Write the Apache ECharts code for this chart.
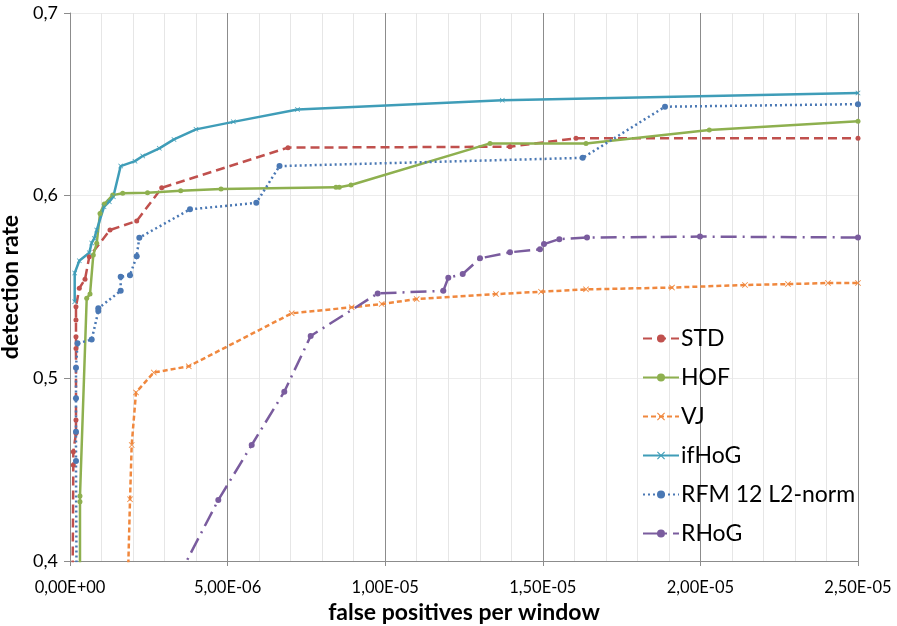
<!DOCTYPE html>
<html>
<head>
<meta charset="utf-8">
<script src="https://cdn.jsdelivr.net/npm/echarts@6/dist/echarts.min.js"></script>
<style>
    html, body {margin: 0; padding: 0; background: #fff;}
    #chart {width: 897px; height: 626px;}
</style>
</head>
<body>
<div id="chart"></div>
<script>
// values (x in false positives per window)
var names = ['STD', 'HOF', 'VJ', 'ifHoG', 'RFM 12 L2-norm', 'RHoG'];

var stdX = [0.08e-6, 0.105e-6, 0.105e-6, 0.19e-6, 0.19e-6, 0.19e-6, 0.19e-6, 0.19e-6, 0.19e-6, 0.295e-6, 0.476e-6, 0.612e-6, 1.269e-6, 2.116e-6, 2.909e-6, 6.916e-6, 13.959e-6, 16.053e-6, 25e-6];
var stdY = [0.38, 0.4525, 0.4598, 0.4699, 0.4772, 0.5164, 0.5228, 0.5319, 0.5392, 0.5493, 0.5542, 0.5666, 0.5812, 0.5861, 0.6043, 0.6263, 0.6268, 0.6314, 0.6314];

var hofX = [0.317e-6, 0.317e-6, 0.317e-6, 0.53e-6, 0.635e-6, 0.739e-6, 0.847e-6, 0.952e-6, 1.088e-6, 1.355e-6, 1.672e-6, 2.459e-6, 3.512e-6, 4.791e-6, 8.439e-6, 8.544e-6, 8.915e-6, 13.325e-6, 16.371e-6, 20.282e-6, 25e-6];
var hofY = [0.35, 0.4325, 0.4356, 0.5438, 0.5461, 0.5675, 0.5739, 0.5903, 0.5954, 0.6003, 0.6013, 0.6016, 0.6027, 0.6036, 0.6046, 0.6046, 0.6058, 0.6286, 0.6286, 0.6359, 0.6408];

var vjX = [1.83e-6, 1.904e-6, 1.957e-6, 2.094e-6, 2.659e-6, 3.769e-6, 7.034e-6, 8.937e-6, 9.889e-6, 10.999e-6, 13.515e-6, 14.943e-6, 16.371e-6, 19.099e-6, 21.415e-6, 22.779e-6, 24.048e-6, 25e-6];
var vjY = [0.385, 0.4338, 0.4635, 0.4923, 0.5032, 0.5066, 0.5356, 0.5389, 0.5407, 0.5434, 0.5461, 0.5474, 0.5487, 0.5497, 0.5511, 0.5516, 0.5522, 0.5522];

var ifhogX = [0.149e-6, 0.149e-6, 0.295e-6, 0.612e-6, 0.688e-6, 0.771e-6, 0.847e-6, 1.079e-6, 1.247e-6, 1.374e-6, 1.608e-6, 2.062e-6, 2.306e-6, 2.833e-6, 3.299e-6, 3.997e-6, 5.181e-6, 7.218e-6, 13.715e-6, 25e-6];
var ifhogY = [0.5419, 0.5576, 0.5644, 0.5688, 0.5741, 0.5766, 0.5812, 0.5939, 0.5967, 0.5994, 0.6162, 0.6189, 0.6217, 0.6259, 0.6308, 0.6363, 0.6404, 0.6472, 0.6523, 0.6562];

var rfmX = [0.21e-6, 0.19e-6, 0.19e-6, 0.19e-6, 0.19e-6, 0.238e-6, 0.688e-6, 0.898e-6, 0.898e-6, 1.608e-6, 1.608e-6, 1.904e-6, 2.116e-6, 2.199e-6, 3.807e-6, 5.911e-6, 6.647e-6, 16.266e-6, 18.877e-6, 25e-6];
var rfmY = [0.38, 0.4547, 0.4708, 0.4891, 0.5058, 0.5192, 0.5212, 0.5368, 0.5383, 0.5479, 0.5556, 0.5565, 0.5669, 0.577, 0.5925, 0.5961, 0.6162, 0.6207, 0.6487, 0.6501];

var rhogX = [3.4e-6, 4.705e-6, 5.765e-6, 6.799e-6, 7.637e-6, 9.762e-6, 11.844e-6, 12.002e-6, 12.459e-6, 13.008e-6, 13.959e-6, 14.911e-6, 15.038e-6, 15.523e-6, 16.402e-6, 19.987e-6, 25e-6];
var rhogY = [0.39, 0.4334, 0.4635, 0.4927, 0.5232, 0.5465, 0.5479, 0.5551, 0.5571, 0.5657, 0.569, 0.5706, 0.5735, 0.5762, 0.5771, 0.5776, 0.5771];

var xTicks = [0, 5e-6, 10e-6, 15e-6, 20e-6, 25e-6];
var yTicks = [0.4, 0.5, 0.6, 0.7];

function pairs(xs, ys) {
    var out = [];
    for (var i = 0; i < xs.length; i++) out.push([xs[i], ys[i]]);
    return out;
}

function sci(v) {
    if (Math.abs(v) < 1e-12) return '0,00E+00';
    var e = Math.floor(Math.log10(v) + 1e-9);
    var m = v / Math.pow(10, e);
    var ex = Math.abs(e);
    return m.toFixed(2).replace('.', ',') + 'E' + (e < 0 ? '-' : '+') + (ex < 10 ? '0' : '') + ex;
}

var cross = 'path://M0,1L1,0L5,4L9,0L10,1L6,5L10,9L9,10L5,6L1,10L0,9L4,5Z';
var font = 'Lato';

function line(name, data, color, type, symbol, size) {
    return {
        name: name,
        type: 'line',
        data: data,
        symbol: symbol,
        symbolSize: size,
        showSymbol: true,
        clip: true,
        itemStyle: {color: color},
        lineStyle: {color: color, width: 2.5, type: type},
        emphasis: {disabled: true},
        z: 3
    };
}

var myChart = echarts.init(document.getElementById('chart'));
var option = {
    animation: false,
    backgroundColor: '#fff',
    grid: {left: 70, right: 39, top: 13, bottom: 65, outerBoundsMode: 'none', containLabel: false},
    legend: {
        orient: 'vertical',
        left: 637,
        top: 322,
        itemWidth: 36,
        itemHeight: 10,
        itemGap: 16,
        textStyle: {fontFamily: font, fontSize: 23, color: '#000', padding: [0, 0, 0, -3]},
        data: names
    },
    xAxis: {
        type: 'value',
        min: 0,
        max: 25e-6,
        interval: 5e-6,
        name: 'false positives per window',
        nameLocation: 'middle',
        nameGap: 38,
        nameTextStyle: {fontFamily: font, fontSize: 23, fontWeight: 'bold', color: '#000'},
        axisLine: {lineStyle: {color: '#8c8c8c', width: 1}},
        axisTick: {show: true, length: 5, lineStyle: {color: '#8c8c8c'}},
        axisLabel: {
            fontFamily: font, fontSize: 16.5, color: '#000', margin: 18,
            formatter: function (v) { return sci(v); }
        },
        splitLine: {show: true, lineStyle: {color: '#8c8c8c', width: 1}},
        minorTick: {show: false, splitNumber: 5},
        minorSplitLine: {show: true, lineStyle: {color: '#e6e6e6', width: 1}}
    },
    yAxis: {
        type: 'value',
        min: yTicks[0],
        max: yTicks[yTicks.length - 1],
        interval: 0.1,
        name: 'detection rate',
        nameLocation: 'middle',
        nameGap: 45,
        nameTextStyle: {fontFamily: font, fontSize: 23, fontWeight: 'bold', color: '#000'},
        axisLine: {show: true, lineStyle: {color: '#8c8c8c', width: 1}},
        axisTick: {show: true, length: 6, lineStyle: {color: '#8c8c8c'}},
        axisLabel: {
            fontFamily: font, fontSize: 18, color: '#000', margin: 12,
            formatter: function (v) { return v.toFixed(1).replace('.', ','); }
        },
        splitLine: {show: true, lineStyle: {color: '#ececec', width: 1}}
    },
    series: [
        line(names[0], pairs(stdX, stdY), '#c0504d', [9, 5], 'circle', 5),
        line(names[1], pairs(hofX, hofY), '#8eb04f', 'solid', 'circle', 5),
        line(names[2], pairs(vjX, vjY), '#f0883e', [5, 3], cross, 6),
        line(names[3], pairs(ifhogX, ifhogY), '#3f9db8', 'solid', cross, 5),
        line(names[4], pairs(rfmX, rfmY), '#4a78b4', [2, 3], 'circle', 6),
        line(names[5], pairs(rhogX, rhogY), '#7a5c9e', [16, 6, 2, 6], 'circle', 6)
    ]
};
myChart.setOption(option);
</script>
</body>
</html>
